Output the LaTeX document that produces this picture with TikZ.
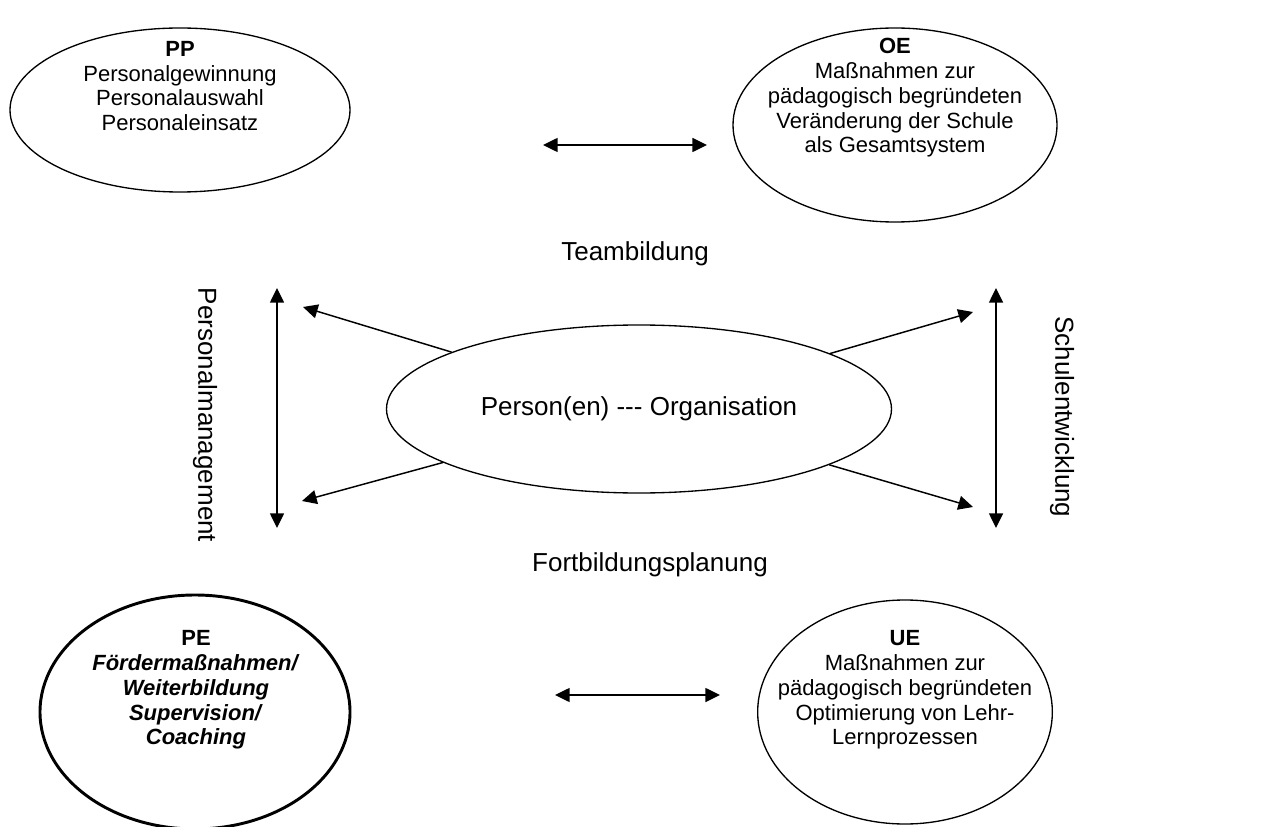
\documentclass[tikz,border=0pt]{standalone}
\usepackage{fontspec}
\setmainfont{Liberation Sans}
\usetikzlibrary{shapes.geometric,arrows.meta}
\begin{document}
\begin{tikzpicture}[x=0.75pt,y=-0.75pt,
  oval/.style={draw,ellipse,line width=1pt,inner sep=0pt},
  lbl/.style={font=\fontsize{16.5}{18.6}\selectfont,align=center,inner sep=0pt},
  big/.style={font=\fontsize{19.5}{22}\selectfont,align=center,inner sep=0pt},
  arr/.style={line width=1.1pt,-{Triangle[length=11pt,width=10.5pt]}},
  darr/.style={line width=1.1pt,{Triangle[length=11pt,width=10.5pt]}-{Triangle[length=11pt,width=10.5pt]}}]
\useasboundingbox (0,0) rectangle (1263,827);
% ellipses
\node[oval,minimum width=255pt,minimum height=123pt] (pp) at (180,110) {};
\node[oval,minimum width=243pt,minimum height=145.5pt] (oe) at (895,125) {};
\node[oval,minimum width=378.75pt,minimum height=126pt] (c) at (639,409) {};
\node[oval,line width=2.2pt,minimum width=232.5pt,minimum height=175.5pt] (pe) at (195,712) {};
\node[oval,minimum width=221pt,minimum height=168pt] (ue) at (905,712) {};
% texts
\node[lbl] (pptext) at (180,86) {\textbf{PP}\\Personalgewinnung\\Personalauswahl\\Personaleinsatz};
\node[lbl] (oetext) at (895,98) {\textbf{OE}\\Maßnahmen zur\\pädagogisch begründeten\\Veränderung der Schule\\als Gesamtsystem};
\node[big] (ctext) at (639,409) {Person(en) -{}-{}- Organisation};
\node[lbl] (petext) at (196,690) {\textbf{PE}\\\textbf{\textit{Fördermaßnahmen/}}\\\textbf{\textit{Weiterbildung}}\\\textbf{\textit{Supervision/}}\\\textbf{\textit{Coaching}}};
\node[lbl] (uetext) at (905,690) {\textbf{UE}\\Maßnahmen zur\\pädagogisch begründeten\\Optimierung von Lehr-\\Lernprozessen};
\node[big] (team) at (635,254) {Teambildung};
\node[big] (fort) at (650,565) {Fortbildungsplanung};
\node[big,rotate=-90] (pm) at (205,415) {Personalmanagement};
\node[big,rotate=-90] (se) at (1062,417) {Schulentwicklung};
% arrow endpoints
\coordinate (h1a) at (543,145);
\coordinate (h1b) at (707,145);
\coordinate (h2a) at (555,695);
\coordinate (h2b) at (720,695);
\coordinate (v1a) at (277,288);
\coordinate (v1b) at (277,528);
\coordinate (v2a) at (996,288);
\coordinate (v2b) at (996,528);
\coordinate (tl) at (303,307);
\coordinate (bl) at (302,501);
\coordinate (tr) at (973,312);
\coordinate (br) at (973,507);
% connectors
\draw[darr] (h1a) -- (h1b);
\draw[darr] (h2a) -- (h2b);
\draw[darr] (v1a) -- (v1b);
\draw[darr] (v2a) -- (v2b);
\draw[arr] (c) -- (tl);
\draw[arr] (c) -- (bl);
\draw[arr] (c) -- (tr);
\draw[arr] (c) -- (br);
\end{tikzpicture}
\end{document}
